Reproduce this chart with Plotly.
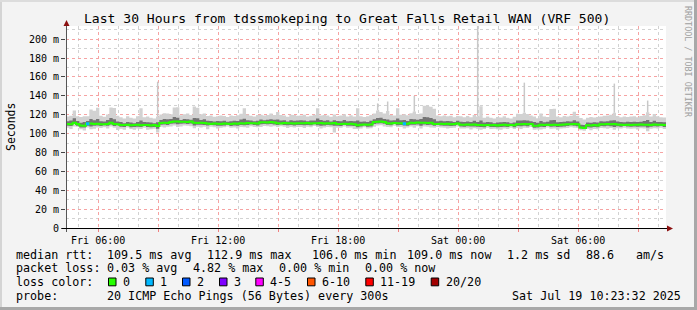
import pandas as pd
import plotly.graph_objects as go

# ---------------- data (10-minute steps, 30 hours) ----------------
start = "2025-07-18 04:23:32"
step_minutes = 10

median_ms = [
    110.2, 110.0, 111.4, 110.3, 108.6, 108.4, 110.4, 110.6, 110.2, 110.5,
    110.0, 109.8, 110.3, 111.6, 110.1, 109.9, 109.2, 109.0, 109.4, 108.8,
    109.1, 109.3, 108.9, 109.2, 109.0, 108.7, 109.1, 108.1, 111.3, 111.6,
    111.2, 112.4, 112.7, 112.9, 112.5, 112.6, 112.2, 112.8, 111.6, 111.3,
    111.5, 111.2, 110.6, 110.3, 110.8, 110.4, 110.2, 110.7, 110.5, 110.1,
    110.6, 110.4, 111.0, 110.8, 111.2, 110.9, 111.1, 110.7, 111.9, 112.1,
    111.8, 112.2, 111.7, 111.0, 110.8, 111.2, 110.9, 111.1, 110.6, 111.0,
    111.1, 110.9, 111.2, 110.8, 111.0, 110.9, 111.3, 110.6, 111.1, 110.8,
    111.2, 110.3, 110.1, 110.5, 110.2, 110.4, 110.0, 108.8, 109.5, 109.7,
    109.3, 109.6, 112.3, 112.6, 112.9, 112.4, 111.0, 110.8, 111.2, 110.9,
    111.1, 110.5, 110.4, 111.5, 111.3, 111.7, 111.4, 111.6, 111.2, 111.5,
    110.3, 110.1, 110.5, 110.2, 110.4, 110.0, 110.3, 110.6, 109.5, 109.3,
    109.7, 109.4, 109.6, 109.2, 109.0, 108.8, 109.2, 108.9, 109.1, 108.7,
    109.0, 109.3, 108.9, 109.1, 108.8, 110.0, 109.8, 110.2, 109.9, 110.1,
    108.2, 108.4, 109.3, 109.1, 109.5, 109.2, 109.4, 109.0, 109.3, 109.6,
    110.0, 109.8, 110.2, 109.9, 106.5, 106.0, 108.8, 108.6, 109.0, 108.7,
    110.0, 109.8, 110.2, 109.9, 110.1, 109.7, 109.3, 109.1, 109.5, 109.2,
    109.5, 109.3, 109.6, 109.4, 109.5, 109.2, 109.7, 109.4, 109.3, 109.0,
]

# smoke: distance (ms) of slowest / fastest ping from the median
smoke_up = [
    8, 9, 13, 8, 9, 10, 8, 15, 14, 17,
    9, 8, 10, 16, 17, 9, 8, 7, 9, 8,
    7, 9, 18, 8, 9, 8, 7, 10, 9, 10,
    10, 8, 15, 15, 7, 8, 9, 7, 17, 16,
    9, 10, 8, 9, 7, 8, 9, 8, 7, 9,
    8, 9, 10, 16, 9, 8, 7, 9, 8, 7,
    8, 9, 8, 12, 9, 8, 7, 9, 9, 8,
    8, 9, 7, 8, 9, 16, 8, 9, 8, 7,
    9, 8, 9, 10, 8, 9, 8, 18, 9, 8,
    9, 10, 9, 12, 10, 9, 13, 9, 8, 16,
    9, 10, 9, 10, 12, 9, 10, 18, 18, 17,
    16, 9, 8, 9, 8, 9, 7, 8, 9, 8,
    9, 8, 10, 9, 20, 8, 9, 8, 7, 9,
    8, 9, 8, 7, 9, 11, 11, 12, 11, 9,
    10, 8, 12, 9, 8, 17, 17, 9, 8, 9,
    8, 9, 13, 9, 10, 9, 8, 9, 8, 9,
    8, 9, 9, 10, 12, 9, 8, 9, 8, 9,
    9, 8, 9, 10, 13, 9, 11, 9, 8, 8,
]
smoke_down = [
    4, 5, 4, 3, 4, 5, 4, 6, 5, 4,
    4, 3, 5, 4, 4, 6, 4, 5, 3, 4,
    5, 4, 4, 3, 5, 4, 4, 7, 4, 5,
    4, 5, 4, 6, 5, 4, 4, 5, 6, 4,
    5, 4, 6, 3, 4, 5, 4, 4, 3, 4,
    4, 5, 4, 4, 5, 3, 4, 4, 5, 4,
    4, 5, 4, 4, 3, 4, 5, 4, 4, 4,
    4, 5, 4, 4, 3, 4, 6, 4, 4, 4,
    10, 4, 4, 3, 4, 4, 5, 4, 4, 3,
    4, 4, 5, 4, 4, 5, 4, 4, 3, 4,
    4, 5, 4, 4, 5, 4, 6, 4, 4, 5,
    4, 3, 4, 4, 5, 4, 4, 3, 4, 4,
    4, 5, 4, 4, 5, 4, 3, 4, 4, 4,
    5, 4, 4, 3, 4, 4, 5, 4, 4, 3,
    4, 4, 5, 4, 3, 4, 4, 5, 4, 4,
    4, 3, 4, 4, 3, 3, 4, 5, 4, 4,
    4, 4, 5, 4, 6, 4, 4, 3, 4, 4,
    4, 5, 4, 4, 7, 4, 4, 4, 3, 4,
]
# inner (denser) part of the smoke
core_up = [
    3, 4, 5, 3, 3, 4, 3, 5, 4, 5,
    3, 3, 4, 5, 5, 3, 3, 2, 3, 3,
    2, 3, 5, 3, 3, 3, 2, 4, 3, 4,
    4, 3, 5, 4, 2, 3, 3, 2, 5, 5,
    3, 4, 3, 3, 2, 3, 3, 3, 2, 3,
    3, 3, 4, 5, 3, 3, 2, 3, 3, 2,
    3, 3, 3, 4, 3, 3, 2, 3, 3, 3,
    3, 3, 2, 3, 3, 5, 3, 3, 3, 2,
    3, 3, 3, 4, 3, 3, 3, 5, 3, 3,
    3, 4, 3, 4, 4, 3, 4, 3, 3, 5,
    3, 4, 3, 4, 4, 3, 4, 6, 6, 5,
    5, 3, 3, 3, 3, 3, 2, 3, 3, 3,
    3, 3, 4, 3, 5, 3, 3, 3, 2, 3,
    3, 3, 3, 2, 3, 4, 4, 4, 4, 3,
    4, 3, 4, 3, 3, 5, 5, 3, 3, 3,
    3, 3, 4, 3, 3, 3, 3, 3, 3, 3,
    3, 3, 3, 4, 4, 3, 3, 3, 3, 3,
    3, 3, 3, 4, 5, 3, 4, 3, 3, 3,
]
core_down = [
    2, 2, 1, 2, 2, 2, 2, 3, 2, 2,
    2, 1, 2, 2, 2, 1, 2, 2, 1, 2,
    2, 2, 2, 1, 2, 2, 2, 3, 2, 2,
    2, 2, 2, 3, 2, 2, 2, 2, 3, 2,
    2, 2, 2, 1, 2, 2, 2, 2, 1, 2,
    2, 2, 2, 2, 2, 1, 2, 2, 2, 2,
    2, 2, 2, 2, 1, 2, 2, 2, 2, 2,
    2, 2, 2, 2, 1, 2, 3, 2, 2, 2,
    3, 2, 2, 1, 2, 2, 2, 2, 2, 1,
    2, 2, 2, 2, 2, 2, 2, 2, 1, 2,
    2, 2, 2, 2, 2, 2, 3, 2, 2, 2,
    2, 1, 2, 2, 2, 2, 2, 1, 2, 2,
    2, 2, 2, 2, 2, 2, 1, 2, 2, 2,
    2, 2, 2, 1, 2, 2, 2, 2, 2, 1,
    2, 2, 2, 2, 1, 2, 2, 2, 2, 2,
    2, 1, 2, 2, 1, 1, 2, 2, 2, 2,
    2, 2, 2, 2, 3, 2, 2, 1, 2, 2,
    2, 2, 2, 2, 3, 2, 2, 2, 1, 2,
]
# narrow outlier spikes (step index, slowest ping ms)
spike_idx = [27, 93, 96, 104, 123, 137, 164, 174]
spike_ms = [155, 132, 134, 140, 230, 154, 153, 135]
# steps with packet loss (step index, lost pings)
loss_idx = [6, 101]
loss_cnt = [1, 1]

y_tick_vals = [0, 20, 40, 60, 80, 100, 120, 140, 160, 180, 200]
y_tick_text = ["0", "20 m", "40 m", "60 m", "80 m", "100 m", "120 m",
               "140 m", "160 m", "180 m", "200 m"]
x_tick_vals = ["2025-07-18 06:00", "2025-07-18 09:00", "2025-07-18 12:00",
               "2025-07-18 15:00", "2025-07-18 18:00", "2025-07-18 21:00",
               "2025-07-19 00:00", "2025-07-19 03:00", "2025-07-19 06:00",
               "2025-07-19 09:00"]
x_tick_text = ["Fri 06:00", "", "Fri 12:00", "", "Fri 18:00", "",
               "Sat 00:00", "", "Sat 06:00", ""]

loss_labels = ["0", "1", "2", "3", "4-5", "6-10", "11-19", "20/20"]
loss_colors = ["#26ff00", "#00b8ff", "#0059ff", "#7e00ff", "#ff00ff",
               "#ff5500", "#ff0000", "#a10000"]

title = "Last 30 Hours from tdssmokeping to Great Falls Retail WAN (VRF 500)"
rtt_stats = ["109.5 ms avg", "112.9 ms max", "106.0 ms min", "109.0 ms now",
             "1.2 ms sd", "88.6", "am/s"]
loss_stats = ["0.03 % avg", "4.82 % max", "0.00 % min", "0.00 % now"]
probe_text = "20 ICMP Echo Pings (56 Bytes) every 300s"
stamp_text = "Sat Jul 19 10:23:32 2025"

# ---------------- build ----------------
W, H = 697, 310
L, R, T, B = 66, 31, 26, 82
PW, PH = W - L - R, H - T - B
Y_MAX = 214
MONO = "DejaVu Sans Mono"


def px(x):
    return (x - L) / PW


def py(y):
    return (H - B - y) / PH


n = len(median_ms)
t0 = pd.Timestamp(start)
dt = pd.Timedelta(minutes=step_minutes)
edges = [t0 + i * dt for i in range(n + 1)]
t_end = edges[-1]


def stepped(vals):
    return list(vals) + [vals[-1]]


hi_outer = [m + u for m, u in zip(median_ms, smoke_up)]
lo_outer = [m - d for m, d in zip(median_ms, smoke_down)]
hi_core = [m + u for m, u in zip(median_ms, core_up)]
lo_core = [m - d for m, d in zip(median_ms, core_down)]

fig = go.Figure()
common = dict(mode="lines", line_shape="hv", hoverinfo="skip", showlegend=False)
fig.add_trace(go.Scatter(x=edges, y=stepped(lo_outer), line=dict(width=0), **common))
fig.add_trace(go.Scatter(x=edges, y=stepped(hi_outer), line=dict(width=0),
                         fill="tonexty", fillcolor="#d2d2d2", **common))
fig.add_trace(go.Scatter(x=edges, y=stepped(lo_core), line=dict(width=0), **common))
fig.add_trace(go.Scatter(x=edges, y=stepped(hi_core), line=dict(width=0),
                         fill="tonexty", fillcolor="#747474", **common))

sx, sy = [], []
for i, v in zip(spike_idx, spike_ms):
    tm = edges[i] + dt / 2
    sx += [tm, tm, None]
    sy += [hi_outer[i], v, None]
fig.add_trace(go.Scatter(x=sx, y=sy, mode="lines", line=dict(width=1.5, color="#c8c8c8"),
                         hoverinfo="skip", showlegend=False))

fig.add_trace(go.Scatter(x=edges, y=stepped(median_ms), line=dict(width=2, color=loss_colors[0]),
                         **common))
lx, ly = [], []
for i, c in zip(loss_idx, loss_cnt):
    lx += [edges[i], edges[i + 1], None]
    ly += [median_ms[i], median_ms[i], None]
fig.add_trace(go.Scatter(x=lx, y=ly, mode="lines", line=dict(width=3, color=loss_colors[1]),
                         hoverinfo="skip", showlegend=False))

shapes = []
# frame bevel
shapes.append(dict(type="rect", xref="paper", yref="paper", x0=px(0), x1=px(2), y0=py(H), y1=py(0),
                   fillcolor="#d4d4d4", line_width=0))
shapes.append(dict(type="rect", xref="paper", yref="paper", x0=px(0), x1=px(W), y0=py(2), y1=py(0),
                   fillcolor="#dcdcdc", line_width=0))
shapes.append(dict(type="rect", xref="paper", yref="paper", x0=px(W - 3), x1=px(W), y0=py(H), y1=py(0),
                   fillcolor="#a8a8a8", line_width=0))
shapes.append(dict(type="rect", xref="paper", yref="paper", x0=px(0), x1=px(W), y0=py(H), y1=py(H - 3),
                   fillcolor="#a8a8a8", line_width=0))
# axes with arrows
shapes.append(dict(type="line", xref="paper", yref="paper", x0=px(66.5), x1=px(66.5),
                   y0=py(H - B + 4), y1=py(23), line=dict(color="#555555", width=1)))
shapes.append(dict(type="line", xref="paper", yref="paper", x0=px(62), x1=px(669),
                   y0=py(H - B + 0.5), y1=py(H - B + 0.5), line=dict(color="#000000", width=1)))
shapes.append(dict(type="path", xref="paper", yref="paper",
                   path=f"M {px(63.5)} {py(26)} L {px(69.5)} {py(26)} L {px(66.5)} {py(20)} Z",
                   fillcolor="#8b1010", line_width=0))
shapes.append(dict(type="path", xref="paper", yref="paper",
                   path=f"M {px(667)} {py(H - B - 2.5)} L {px(667)} {py(H - B + 3.5)} L {px(673)} {py(H - B + 0.5)} Z",
                   fillcolor="#8b1010", line_width=0))
# loss colour swatches
sw_x = [108.5, 145.8, 182.5, 219.5, 255.8, 307.5, 365.8, 431.2]
for xx, col in zip(sw_x, loss_colors):
    shapes.append(dict(type="rect", xref="paper", yref="paper", x0=px(xx), x1=px(xx + 7.5),
                       y0=py(285.8), y1=py(278), fillcolor=col, line=dict(color="#000000", width=1)))

ann = []


def text(x, y, s, size=11.7, anchor="left", color="#000000", angle=0, ymid="middle"):
    ann.append(dict(x=px(x), y=py(y), xref="paper", yref="paper", text=s, showarrow=False,
                    xanchor=anchor, yanchor=ymid, textangle=angle, borderpad=0, borderwidth=0,
                    font=dict(family=MONO, size=size, color=color)))


text(346.5, 19, title, size=13.05, anchor="center")
text(11, 127, "Seconds", size=11.5, anchor="center", angle=-90)
text(688, 62, "RRDTOOL / TOBI OETIKER", size=8.4, anchor="center", color="#a0a0a0", angle=90)

r1, r2, r3, r4 = 254.7, 268.3, 282.3, 296
text(16, r1, "median rtt:")
for xx, s in zip([107.3, 207.3, 311.7, 407.3, 507.3, 586, 635.7], rtt_stats):
    text(xx, r1, s)
text(16, r2, "packet loss:")
for xx, s in zip([107.3, 193.3, 279.3, 365], loss_stats):
    text(xx, r2, s)
text(16, r3, "loss color:")
for xx, s in zip(sw_x, loss_labels):
    text(xx + 14.6, r3, s)
text(16, r4, "probe:")
text(107.3, r4, probe_text)
text(680.5, r4, stamp_text, anchor="right")

fig.update_layout(
    width=W, height=H, margin=dict(l=L, r=R, t=T, b=B, pad=0),
    paper_bgcolor="#f3f3f3", plot_bgcolor="#ffffff",
    showlegend=False, shapes=shapes, annotations=ann,
    font=dict(family=MONO, size=10, color="#000000"),
)
fig.update_xaxes(
    type="date", range=[t0, t_end], tickvals=x_tick_vals, ticktext=x_tick_text,
    showgrid=True, gridcolor="#f6a3a3", griddash="dot", gridwidth=1,
    ticks="outside", ticklen=3, tickcolor="#f08080", showline=False, zeroline=False,
    tickfont=dict(family=MONO, size=10),
    minor=dict(dtick=3600000, tick0="2025-07-18 00:00", showgrid=True, gridcolor="#d2d2d2",
               griddash="dot", gridwidth=1, ticks=""),
)
fig.update_yaxes(
    range=[0, Y_MAX], tickvals=y_tick_vals, ticktext=y_tick_text,
    showgrid=True, gridcolor="#f6a3a3", griddash="dot", gridwidth=1,
    ticks="outside", ticklen=4, tickcolor="#444444", showline=False, zeroline=False,
    tickfont=dict(family=MONO, size=10),
    minor=dict(dtick=10, tick0=0, showgrid=True, gridcolor="#d2d2d2", griddash="dot",
               gridwidth=1, ticks=""),
)

fig.write_html("out.html")
